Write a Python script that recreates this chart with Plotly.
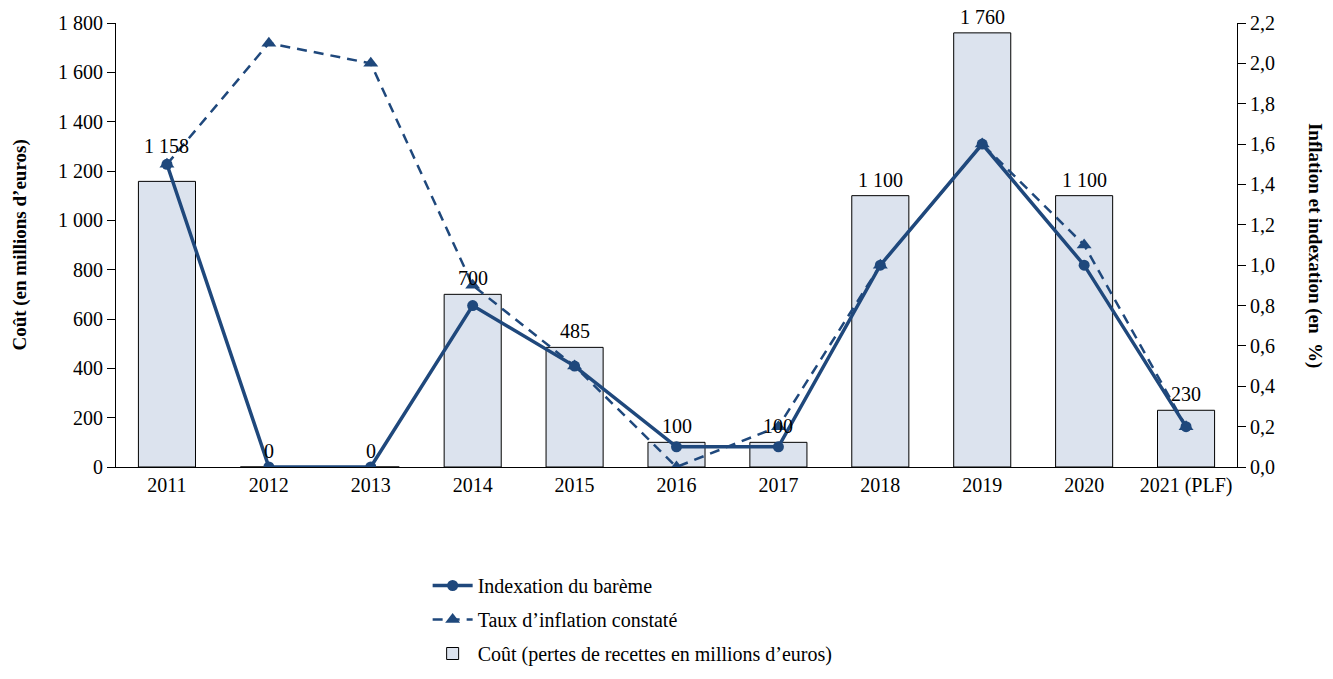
import plotly.graph_objects as go

ANNEES = ["2011", "2012", "2013", "2014", "2015", "2016", "2017", "2018", "2019", "2020", "2021 (PLF)"]
COUT = [1158, 0, 0, 700, 485, 100, 100, 1100, 1760, 1100, 230]
INDEXATION = [1.5, 0.0, 0.0, 0.8, 0.5, 0.1, 0.1, 1.0, 1.6, 1.0, 0.2]
INFLATION = [1.5, 2.1, 2.0, 0.9, 0.5, 0.0, 0.2, 1.0, 1.6, 1.1, 0.2]

BLEU = "#1F487C"
FOND_BARRE = "#DCE3EE"
POLICE = "Liberation Serif, Times New Roman, serif"

fig = go.Figure()

fig.add_trace(go.Bar(
    x=ANNEES, y=COUT, name="Coût (pertes de recettes en millions d’euros)",
    marker=dict(color=FOND_BARRE, line=dict(color="black", width=1)),
    legendrank=3, legendgroup="c",
))
fig.add_trace(go.Scatter(
    x=ANNEES, y=INFLATION, name="Taux d’inflation constaté", yaxis="y2",
    mode="lines+markers",
    line=dict(color=BLEU, width=2.5, dash="10px,7px"),
    marker=dict(symbol="triangle-up", size=13, color=BLEU),
    legendrank=2, legendgroup="b",
))
fig.add_trace(go.Scatter(
    x=ANNEES, y=INDEXATION, name="Indexation du barème", yaxis="y2",
    mode="lines+markers",
    line=dict(color=BLEU, width=3.5),
    marker=dict(symbol="circle", size=11, color=BLEU),
    legendrank=1, legendgroup="a",
))

# étiquettes de valeur au-dessus des barres (la première est décalée pour éviter le point)
# sur un axe catégoriel, la position x d'une annotation est l'indice de la catégorie
for i, v in enumerate(COUT):
    fig.add_annotation(
        x=i, y=v, xref="x", yref="y", yanchor="bottom", showarrow=False,
        text=f"{v:,}".replace(",", " "), yshift=22 if i == 0 else 3,
        font=dict(size=20, color="black", family=POLICE),
    )

fig.add_annotation(
    x=-0.086, y=0.5, xref="paper", yref="paper", xanchor="center", textangle=-90,
    showarrow=False, text="<b>Coût (en millions d’euros)</b>",
    font=dict(size=19, color="black", family=POLICE),
)
fig.add_annotation(
    x=1.0696, y=0.5, xref="paper", yref="paper", xanchor="center", textangle=90,
    showarrow=False, text="<b>Inflation et indexation (en  %)</b>",
    font=dict(size=19, color="black", family=POLICE),
)

fig.update_layout(
    width=1333, height=679,
    paper_bgcolor="white", plot_bgcolor="white",
    font=dict(family=POLICE, size=20, color="black"),
    separators=", ",
    margin=dict(l=116, r=96, t=23, b=212, autoexpand=False),
    bargap=0.44,
    showlegend=True,
    legend=dict(
        x=0.278, y=-0.223, xanchor="left", yanchor="top",
        font=dict(size=20), tracegroupgap=5, itemwidth=40,
        traceorder="grouped",
    ),
    xaxis=dict(
        type="category", range=[-0.5, len(ANNEES) - 0.5], automargin=False,
        showline=True, linecolor="black", linewidth=1.2,
        ticks="", showgrid=False, tickfont=dict(size=20),
    ),
    yaxis=dict(
        range=[0, 1800], dtick=200, tickformat=",d", automargin=False,
        showline=True, linecolor="black", linewidth=1.2,
        ticks="outside", ticklen=8, tickcolor="black",
        showgrid=False, zeroline=False,
    ),
    yaxis2=dict(
        overlaying="y", side="right", automargin=False,
        range=[0, 2.2], dtick=0.2, tickformat=".1f",
        showline=True, linecolor="black", linewidth=1.2,
        ticks="outside", ticklen=8, tickcolor="black",
        showgrid=False, zeroline=False,
    ),
)

# la page n'a pas de marge autour du graphique
fig.write_html(
    "out.html",
    config={"displayModeBar": False},
    post_script="document.body.style.margin = '0';",
)
